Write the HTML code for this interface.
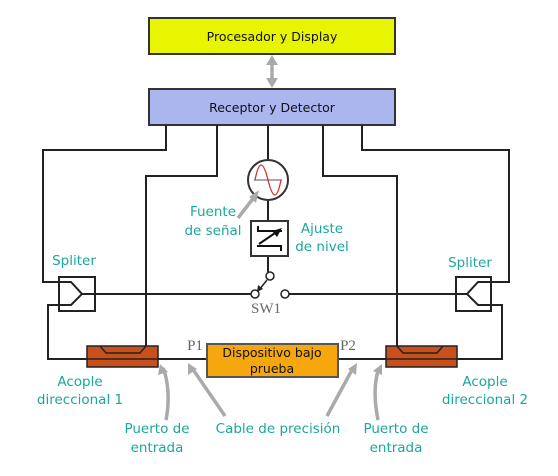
<!DOCTYPE html>
<html><head><meta charset="utf-8"><style>
html,body{margin:0;padding:0;background:#fff;}
svg{display:block;}
.t{font-family:"DejaVu Sans","Liberation Sans",sans-serif;fill:#1aa89a;font-size:13.5px;}
.b{font-family:"DejaVu Sans","Liberation Sans",sans-serif;fill:#111;font-size:12.5px;}
.g{font-family:"Liberation Serif",serif;fill:#666;font-size:15px;}
</style></head><body>
<svg width="558" height="476" viewBox="0 0 558 476" xmlns="http://www.w3.org/2000/svg">
<g stroke="#222" stroke-width="2" fill="none">
<rect x="149" y="18" width="246" height="36" fill="#e8f500" stroke="#333"/>
<rect x="149" y="89" width="246" height="36" fill="#abb5ee" stroke="#333"/>
<polyline points="166,125 166,150 43,150 43,282 59,282"/>
<polyline points="59,305 48,305 48,359 87,359"/>
<polyline points="217,125 217,176 146,176 146,346"/>
<polyline points="362,125 362,150 509,150 509,282 491,282"/>
<polyline points="491,305 502,305 502,359 457,359"/>
<polyline points="323,125 323,176 397,176 397,346"/>
<line x1="158" y1="359" x2="207" y2="359"/>
<line x1="338" y1="359" x2="386" y2="359"/>
<rect x="59" y="277" width="36" height="34" fill="#fff"/>
<polyline points="59,282 71,282 82,294 71,305 59,305"/>
<line x1="82" y1="294" x2="252" y2="294"/>
<rect x="456" y="277" width="35" height="34" fill="#fff"/>
<polyline points="491,282 478,282 467,294 478,305 491,305"/>
<line x1="467" y1="294" x2="287" y2="294"/>
<line x1="268" y1="125" x2="268" y2="160"/>
<line x1="268" y1="200" x2="268" y2="221"/>
<line x1="268" y1="256" x2="268" y2="272"/>
<circle cx="268" cy="180" r="20" fill="#fff" stroke="#333"/>
<rect x="251" y="221" width="37" height="35" fill="#fff" stroke="#333"/>
<circle cx="270" cy="276" r="4" fill="#fff" stroke-width="1.5"/>
<circle cx="255" cy="294" r="4" fill="#fff" stroke-width="1.5"/>
<circle cx="285" cy="294" r="4" fill="#fff" stroke-width="1.5"/>
<line x1="267" y1="280" x2="259" y2="290" stroke-width="1.5"/>
</g>
<polygon points="257,292 258,285 263,289" fill="#222"/>
<line x1="254" y1="180" x2="282" y2="180" stroke="#555" stroke-width="1"/>
<path d="M255,180 C259,160 263,160 268,180 C273,200 277,200 281,180" stroke="#c33" stroke-width="1.3" fill="none"/>
<g stroke="#111" stroke-width="2">
<line x1="257" y1="231" x2="282" y2="231"/><line x1="258" y1="226" x2="258" y2="231"/>
<line x1="257" y1="246" x2="282" y2="246"/><line x1="281" y1="246" x2="281" y2="251"/>
<line x1="259" y1="244" x2="278" y2="231"/>
</g>
<polygon points="282,228 272,231 277,237" fill="#111"/>
<g stroke="#222" stroke-width="1.5">
<rect x="87" y="346" width="71" height="21" fill="#c9501c"/>
<polyline points="100,346 106,353 140,353 146,346" fill="none"/>
<line x1="87" y1="359" x2="158" y2="359"/>
<rect x="386" y="346" width="71" height="21" fill="#c9501c"/>
<polyline points="397,346 403,353 437,353 443,346" fill="none"/>
<line x1="386" y1="359" x2="457" y2="359"/>
<rect x="207" y="344" width="131" height="33" fill="#f5a70d" stroke="#555" stroke-width="2"/>
</g>
<g stroke="#aaa" stroke-width="3.5" fill="none">
<line x1="272" y1="60" x2="272" y2="83"/>
<line x1="238" y1="218" x2="255" y2="196"/>
<path d="M166,420 C170,400 168,380 163,368"/>
<line x1="225" y1="416" x2="192" y2="368"/>
<line x1="327" y1="416" x2="353" y2="368"/>
<path d="M378,420 C374,400 374,382 379,368"/>
</g>
<g fill="#aaa">
<polygon points="272,55 266,65 278,65"/><polygon points="272,88 266,78 278,78"/>
<polygon points="259,190 249,197 256,203"/>
<polygon points="160,364 158,375 168,372"/>
<polygon points="188,363 188,375 197,369"/>
<polygon points="357,363 348,369 356,375"/>
<polygon points="382,364 373,371 382,375"/>
</g>
<text x="272" y="41" class="b" text-anchor="middle">Procesador y Display</text>
<text x="272" y="112" class="b" text-anchor="middle">Receptor y Detector</text>
<text x="272" y="357" class="b" text-anchor="middle">Dispositivo bajo</text>
<text x="272" y="373" class="b" text-anchor="middle">prueba</text>
<text x="195" y="350" class="g" text-anchor="middle">P1</text>
<text x="348" y="350" class="g" text-anchor="middle">P2</text>
<text x="266" y="313" class="g" text-anchor="middle">SW1</text>
<text x="213" y="216" class="t" text-anchor="middle">Fuente</text>
<text x="213" y="235" class="t" text-anchor="middle">de señal</text>
<text x="322" y="233" class="t" text-anchor="middle">Ajuste</text>
<text x="322" y="251" class="t" text-anchor="middle">de nivel</text>
<text x="74" y="265" class="t" text-anchor="middle">Spliter</text>
<text x="470" y="267" class="t" text-anchor="middle">Spliter</text>
<text x="80" y="386" class="t" text-anchor="middle">Acople</text>
<text x="80" y="404" class="t" text-anchor="middle">direccional 1</text>
<text x="485" y="386" class="t" text-anchor="middle">Acople</text>
<text x="485" y="404" class="t" text-anchor="middle">direccional 2</text>
<text x="157" y="433" class="t" text-anchor="middle">Puerto de</text>
<text x="157" y="452" class="t" text-anchor="middle">entrada</text>
<text x="278" y="433" class="t" text-anchor="middle">Cable de precisión</text>
<text x="396" y="433" class="t" text-anchor="middle">Puerto de</text>
<text x="396" y="452" class="t" text-anchor="middle">entrada</text>
</svg>
</body></html>
